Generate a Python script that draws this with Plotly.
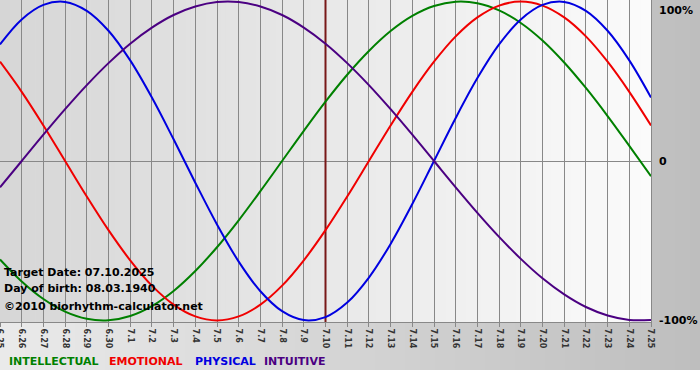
import plotly.graph_objects as go

# ---- data (-1..1 scale) ----
day_labels = ["6.25", "6.26", "6.27", "6.28", "6.29", "6.30",
              "7.1", "7.2", "7.3", "7.4", "7.5", "7.6", "7.7", "7.8", "7.9", "7.10",
              "7.11", "7.12", "7.13", "7.14", "7.15", "7.16", "7.17", "7.18", "7.19",
              "7.20", "7.21", "7.22", "7.23", "7.24", "7.25"]
days = list(range(len(day_labels)))

intellectual = [-0.618, -0.756, -0.866, -0.945, -0.990, -0.999, -0.972, -0.910, -0.815, -0.690,
                -0.541, -0.372, -0.189, 0.000, 0.189, 0.372, 0.541, 0.690, 0.815, 0.910,
                0.972, 0.999, 0.990, 0.945, 0.866, 0.756, 0.618, 0.458, 0.282, 0.095, -0.095]
emotional = [0.623, 0.434, 0.223, 0.000, -0.223, -0.434, -0.623, -0.782, -0.901, -0.975,
             -1.000, -0.975, -0.901, -0.782, -0.623, -0.434, -0.223, 0.000, 0.223, 0.434,
             0.623, 0.782, 0.901, 0.975, 1.000, 0.975, 0.901, 0.782, 0.623, 0.434, 0.223]
physical = [0.731, 0.888, 0.979, 0.998, 0.942, 0.817, 0.631, 0.398, 0.136, -0.136,
            -0.398, -0.631, -0.817, -0.942, -0.998, -0.979, -0.888, -0.731, -0.520, -0.270,
            0.000, 0.270, 0.520, 0.731, 0.888, 0.979, 0.998, 0.942, 0.817, 0.631, 0.398]
intuitive = [-0.165, 0.000, 0.165, 0.325, 0.476, 0.614, 0.736, 0.837, 0.916, 0.969,
             0.997, 0.997, 0.969, 0.916, 0.837, 0.736, 0.614, 0.476, 0.325, 0.165,
             0.000, -0.165, -0.325, -0.476, -0.614, -0.736, -0.837, -0.916, -0.969, -0.997, -0.997]

target_index = 15  # 7.10
series_names = ["INTELLECTUAL", "EMOTIONAL", "PHYSICAL", "INTUITIVE"]
series_colors = ["#008000", "#f00000", "#0000e0", "#4b0082"]
y_labels = ["100%", "0", "-100%"]
info_lines = ["Target Date: 07.10.2025", "Day of birth: 08.03.1940", "©2010 biorhythm-calculator.net"]

# ---- geometry (pixels) ----
W, H = 700, 380
PL, PR, PT, PB = 0, 651, 0, 322  # plot area
pw, ph = PR - PL, PB - PT
YR = [-1.01, 1.01]


def px(x):
    return (x - PL) / pw


def py(y):
    return (PB - y) / ph


def mix(c1, c2, t):
    return "#%02x%02x%02x" % tuple(int(round(a + (b - a) * t)) for a, b in zip(c1, c2))


fig = go.Figure()
font = "DejaVu Sans, Verdana, sans-serif"

# target date marker line (drawn first so the curves pass over it)
fig.add_trace(go.Scatter(x=[target_index, target_index], y=YR, mode="lines",
                         line=dict(color="#781818", width=2), hoverinfo="skip", showlegend=False))

for name, vals, col in zip(series_names, [intellectual, emotional, physical, intuitive], series_colors):
    fig.add_trace(go.Scatter(x=days, y=vals, mode="lines", name=name,
                             line=dict(color=col, width=2, shape="spline", smoothing=1.0),
                             hoverinfo="skip", showlegend=False))

shapes = []
# outer gradient background
n = 140
for i in range(n):
    x0 = i * W / n
    x1 = (i + 1) * W / n + 0.6
    c = mix((0xea, 0xea, 0xea), (0xbe, 0xbe, 0xbe), i / (n - 1))
    shapes.append(dict(type="rect", xref="paper", yref="paper", x0=px(x0), x1=px(x1),
                       y0=py(370), y1=py(0), fillcolor=c, line=dict(width=0), layer="below"))
# white strip at bottom
shapes.append(dict(type="rect", xref="paper", yref="paper", x0=px(0), x1=px(W),
                   y0=py(H), y1=py(370), fillcolor="#ffffff", line=dict(width=0), layer="below"))
# plot area gradient
n = 130
for i in range(n):
    x0 = PL + i * pw / n
    x1 = PL + (i + 1) * pw / n + 0.6
    c = mix((0xd6, 0xd6, 0xd6), (0xfb, 0xfb, 0xfb), i / (n - 1))
    shapes.append(dict(type="rect", xref="paper", yref="paper", x0=px(x0), x1=min(px(x1), 1.0),
                       y0=0, y1=1, fillcolor=c, line=dict(width=0), layer="below"))

annotations = []
# right-side labels
for txt, yv, anc in zip(y_labels, [1, 0, -1], ["top", "middle", "middle"]):
    annotations.append(dict(text="<b>%s</b>" % txt, xref="paper", yref="y", x=px(657), y=yv,
                            xanchor="left", yanchor=anc, showarrow=False,
                            font=dict(family=font, size=11, color="#000000")))
# info text
for txt, yy in zip(info_lines, [272, 288, 306]):
    annotations.append(dict(text="<b>%s</b>" % txt, xref="paper", yref="paper", x=px(2), y=py(yy),
                            xanchor="left", yanchor="middle", showarrow=False,
                            font=dict(family=font, size=11, color="#000000")))
# legend text
for txt, col, xx in zip(series_names, series_colors, [7, 107, 193, 262]):
    annotations.append(dict(text="<b>%s</b>" % txt, xref="paper", yref="paper", x=px(xx), y=py(361),
                            xanchor="left", yanchor="middle", showarrow=False,
                            font=dict(family=font, size=11, color=col)))

fig.update_layout(
    width=W, height=H,
    margin=dict(l=PL, r=W - PR, t=PT, b=H - PB, pad=0, autoexpand=False),
    paper_bgcolor="#ffffff",
    plot_bgcolor="rgba(0,0,0,0)",
    shapes=shapes,
    annotations=annotations,
    showlegend=False,
    xaxis=dict(range=[0, len(days) - 1], tickvals=days, ticktext=day_labels, tickangle=90,
               showgrid=True, gridcolor="#888888", gridwidth=1,
               showline=True, linecolor="#888888", linewidth=1, automargin=False,
               ticks="outside", ticklen=4, tickcolor="#888888", ticklabeloverflow="allow",
               tickfont=dict(family=font, size=8, color="#333333", weight="bold"),
               zeroline=False, fixedrange=True),
    yaxis=dict(range=YR, showgrid=False, zeroline=True, zerolinecolor="#888888",
               zerolinewidth=1, showticklabels=False, ticks="", side="right", automargin=False,
               showline=True, linecolor="#888888", linewidth=1, fixedrange=True),
)

fig.write_html("out.html", config={"displayModeBar": False},
               post_script="document.body.style.margin='0';document.body.style.overflow='hidden';")
